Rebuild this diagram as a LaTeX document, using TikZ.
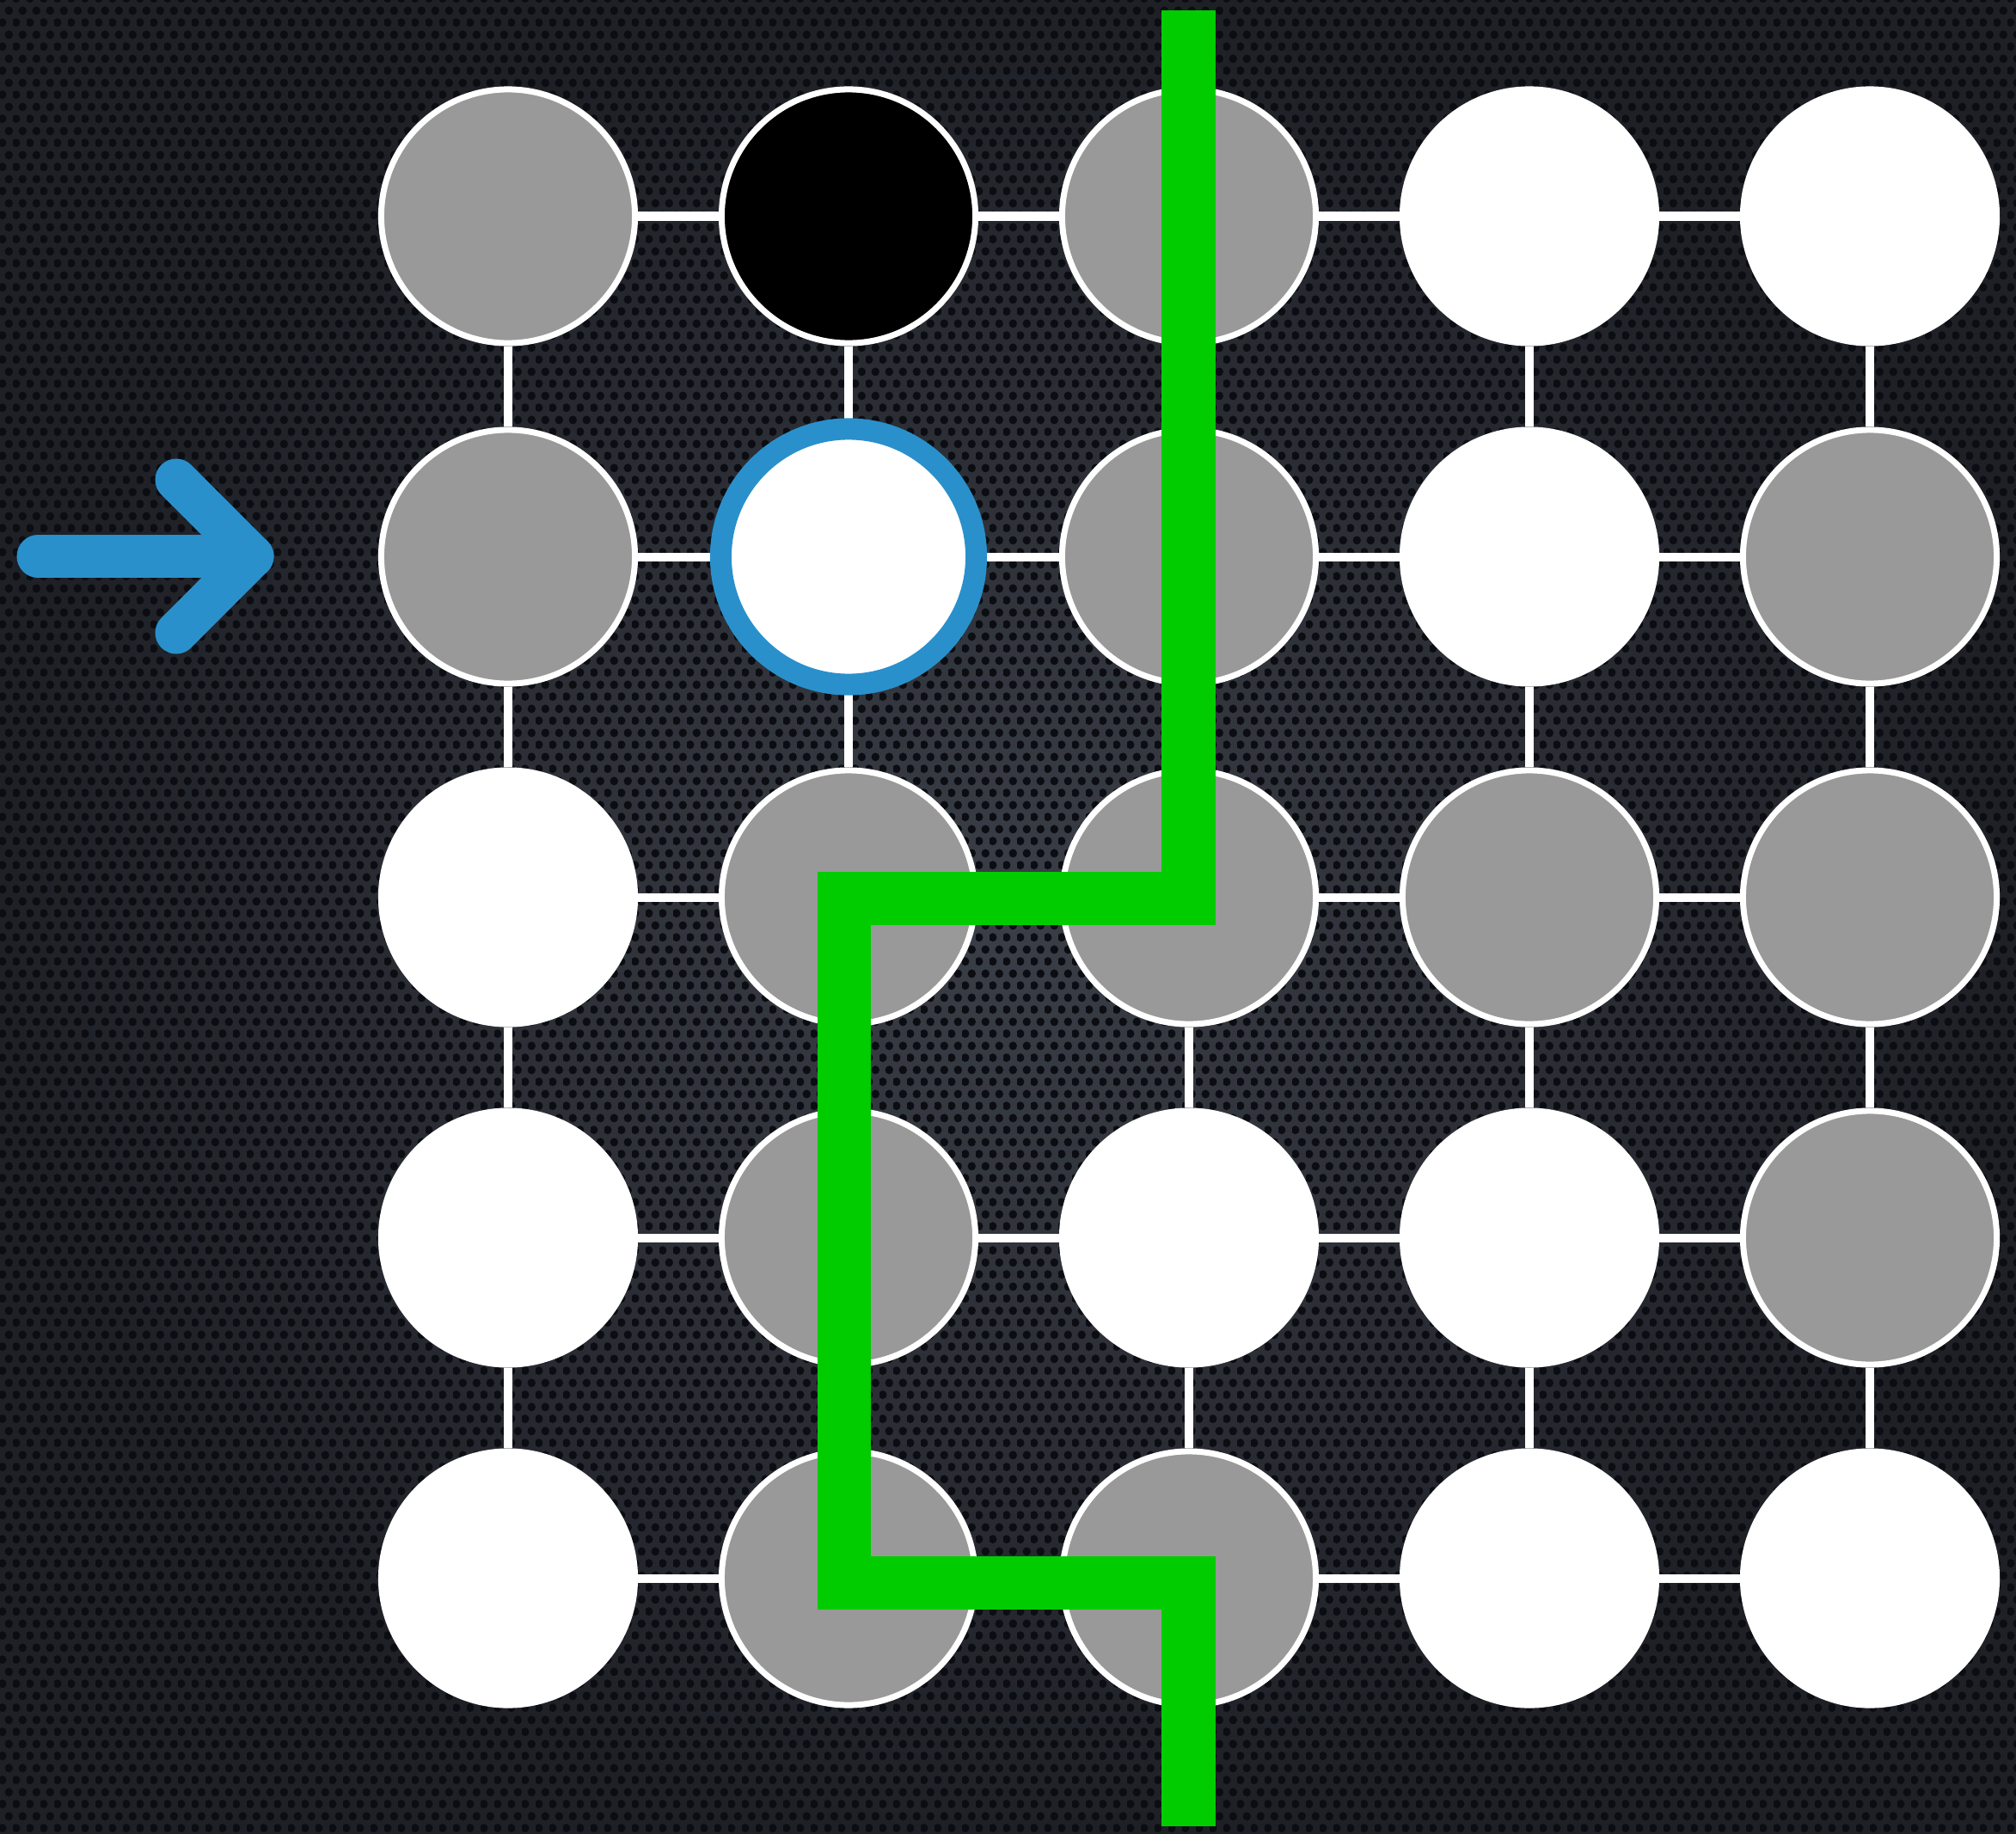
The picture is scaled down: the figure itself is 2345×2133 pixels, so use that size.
\documentclass[tikz,border=0pt]{standalone}
\usepackage{xcolor}
\usepackage{tikz}
\usetikzlibrary{patterns.meta}
\definecolor{cgray}{HTML}{999999}
\definecolor{cblue}{HTML}{2990CC}
\definecolor{cgreen}{HTML}{00CC00}
\definecolor{bgin}{HTML}{3A3E46}
\definecolor{bgout}{HTML}{1E2026}
\definecolor{dotc}{HTML}{0B0D12}
\tikzdeclarepattern{
  name=hexdots,
  type=uncolored,
  bottom left={(0cm,0cm)},
  top right={(0.16cm,0.277cm)},
  tile size={(0.16cm,0.277cm)},
  code={
    \fill (0.04cm,0.069cm) circle [radius=0.05cm];
    \fill (0.12cm,0.208cm) circle [radius=0.05cm];
  }
}
\tikzset{
  stone/.style={circle, draw=white, line width=0.07cm, inner sep=0pt,
                minimum size=2.95cm},
  picked/.style={circle, draw=cblue, line width=0.25cm, fill=white,
                 inner sep=0pt, minimum size=2.97cm},
  bond/.style={white, line width=0.1cm},
  cut/.style={cgreen, line width=0.62cm, line cap=butt, line join=miter},
  pointer/.style={cblue, line width=0.49cm, line cap=round, line join=round}
}

\begin{document}
\begin{tikzpicture}[x=0.01cm, y=-0.01cm]
\useasboundingbox (0,0) rectangle (2345,2133);
% ---- backdrop ----
\shade[inner color=bgin, outer color=bgout] (0,0) rectangle (2345,2133);
\fill[pattern=hexdots, pattern color=dotc] (0,0) rectangle (2345,2133);
% ---- board ----
\foreach \row/\fills in {1/{cgray,black,cgray,white,white},
                         2/{cgray,white,cgray,white,cgray},
                         3/{white,cgray,cgray,cgray,cgray},
                         4/{white,cgray,white,white,cgray},
                         5/{white,cgray,cgray,white,white}}
  \foreach \fc [count=\col] in \fills
    \node[stone, fill=\fc] (n\row\col) at ({591+396*(\col-1)},{251.5+396*(\row-1)}) {};
% bonds stop at the stone borders
\foreach \i in {1,2,3,4,5}{
  \foreach \j in {1,2,3,4}{
    \pgfmathtruncatemacro{\k}{\j+1}
    \draw[bond] (n\i\j) -- (n\i\k);
    \draw[bond] (n\j\i) -- (n\k\i);
  }
}
\node[picked] (sel) at (n22) {};
% ---- cut ----
\coordinate (gtop) at (1382.5,12);
\coordinate (gbot) at (1382.5,2124);
\draw[cut] (gtop) -- (1382.5,1045) -- (982,1045) -- (982,1841) -- (1382.5,1841) -- (gbot);
% ---- pointer ----
\coordinate (tail) at (44,647);
\coordinate (tip) at (294,647);
\draw[pointer] (tail) -- (tip);
\draw[pointer] (205,558) -- (tip) -- (205,736);
\end{tikzpicture}
\end{document}
